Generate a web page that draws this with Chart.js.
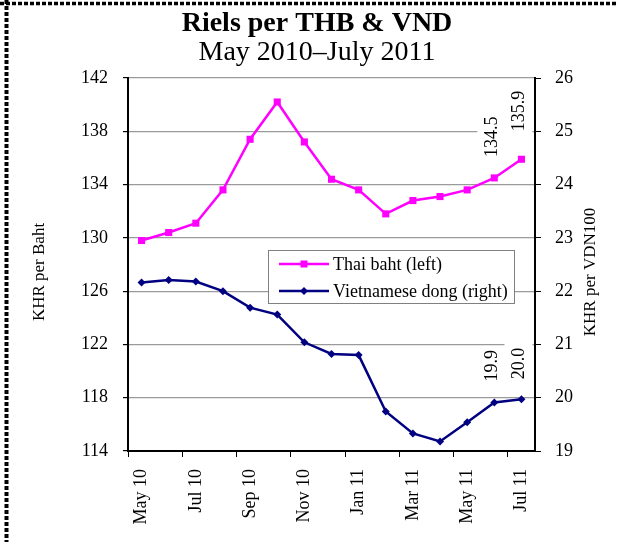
<!DOCTYPE html>
<html>
<head>
<meta charset="utf-8">
<script src="https://cdn.jsdelivr.net/npm/chart.js@4.4.1/dist/chart.umd.min.js"></script>
<style>
  html, body { margin: 0; padding: 0; background: #ffffff; }
  #wrap { width: 617px; height: 542px; position: relative; }
</style>
</head>
<body>
<div id="wrap"><canvas id="c" width="617" height="542"></canvas></div>
<script>
// ---- data ----
const months = ['May 10','Jun 10','Jul 10','Aug 10','Sep 10','Oct 10','Nov 10','Dec 10','Jan 11','Feb 11','Mar 11','Apr 11','May 11','Jun 11','Jul 11'];
const thaiBaht = [129.8, 130.4, 131.1, 133.6, 137.4, 140.2, 137.2, 134.4, 133.6, 131.8, 132.8, 133.1, 133.6, 134.5, 135.9];
const vietDong = [22.16, 22.21, 22.18, 22.0, 21.69, 21.56, 21.04, 20.82, 20.80, 19.74, 19.33, 19.18, 19.54, 19.91, 19.97];
const leftTicks = [114, 118, 122, 126, 130, 134, 138, 142];
const rightTicks = [19, 20, 21, 22, 23, 24, 25, 26];
const titleText = 'Riels per THB & VND';
const subtitleText = 'May 2010\u2013July 2011';
const leftAxisTitle = 'KHR per Baht';
const rightAxisTitle = 'KHR per VDN100';
const seriesNames = ['Thai baht (left)', 'Vietnamese dong (right)'];

const PINK = '#FF00FF';
const NAVY = '#000080';
const SERIF = '"Liberation Serif", "Times New Roman", serif';

const decor = {
  id: 'decor',
  beforeDraw(chart) {
    const ctx = chart.ctx;
    ctx.save();
    ctx.fillStyle = '#ffffff';
    ctx.fillRect(0, 0, chart.width, chart.height);
    // dashed frame (top and left)
    ctx.strokeStyle = '#000000';
    ctx.setLineDash([4, 2]);
    ctx.lineWidth = 3.5;
    ctx.beginPath(); ctx.moveTo(0, 3.5); ctx.lineTo(chart.width, 3.5); ctx.stroke();
    ctx.lineWidth = 4;
    ctx.beginPath(); ctx.moveTo(6.5, 0); ctx.lineTo(6.5, chart.height); ctx.stroke();
    ctx.setLineDash([]);
    // titles
    ctx.fillStyle = '#000000';
    ctx.textAlign = 'center';
    ctx.textBaseline = 'alphabetic';
    ctx.font = 'bold 28px ' + SERIF;
    ctx.fillText(titleText, 317, 31);
    ctx.font = '28px ' + SERIF;
    ctx.fillText(subtitleText, 317, 60);
    // axis titles
    ctx.font = '17px ' + SERIF;
    ctx.textBaseline = 'middle';
    ctx.save(); ctx.translate(40, 272); ctx.rotate(-Math.PI / 2); ctx.fillText(leftAxisTitle, 0, 0); ctx.restore();
    ctx.save(); ctx.translate(591, 272); ctx.rotate(-Math.PI / 2); ctx.fillText(rightAxisTitle, 0, 0); ctx.restore();
    ctx.restore();
  },
  afterDatasetsDraw(chart) {
    const ctx = chart.ctx;
    // value labels above last two points of each series
    const labels = [
      { ds: 0, i: 13, off: 21 },
      { ds: 0, i: 14, off: 28 },
      { ds: 1, i: 13, off: 21 },
      { ds: 1, i: 14, off: 20 }
    ];
    ctx.save();
    ctx.font = '18px ' + SERIF;
    labels.forEach(l => {
      const el = chart.getDatasetMeta(l.ds).data[l.i];
      const v = chart.data.datasets[l.ds].data[l.i];
      const txt = v.toFixed(1);
      const w = ctx.measureText(txt).width;
      ctx.save();
      ctx.translate(el.x - 3, el.y - l.off);
      ctx.rotate(-Math.PI / 2);
      ctx.fillStyle = '#ffffff';
      ctx.fillRect(-4, -14, w + 8, 28);
      ctx.fillStyle = '#000000';
      ctx.textAlign = 'left';
      ctx.textBaseline = 'middle';
      ctx.fillText(txt, 0, 1);
      ctx.restore();
    });
    // legend box inside the plot
    const a = chart.chartArea;
    const lx = a.left + 140, ly = a.top + 172, lw = 247, lh = 54;
    ctx.fillStyle = '#ffffff';
    ctx.fillRect(lx, ly, lw, lh);
    ctx.strokeStyle = '#808080';
    ctx.lineWidth = 1;
    ctx.strokeRect(lx + 0.5, ly + 0.5, lw - 1, lh - 1);
    const rows = [
      { y: ly + 14, color: PINK, shape: 'sq', text: seriesNames[0] },
      { y: ly + 41, color: NAVY, shape: 'dia', text: seriesNames[1] }
    ];
    rows.forEach(r => {
      ctx.strokeStyle = r.color;
      ctx.lineWidth = 2.5;
      ctx.beginPath(); ctx.moveTo(lx + 11, r.y); ctx.lineTo(lx + 61, r.y); ctx.stroke();
      ctx.fillStyle = r.color;
      const cx = lx + 36;
      if (r.shape === 'sq') {
        ctx.fillRect(cx - 3.5, r.y - 3.5, 7, 7);
      } else {
        ctx.beginPath();
        ctx.moveTo(cx, r.y - 4); ctx.lineTo(cx + 4, r.y); ctx.lineTo(cx, r.y + 4); ctx.lineTo(cx - 4, r.y);
        ctx.closePath(); ctx.fill();
      }
      ctx.fillStyle = '#000000';
      ctx.font = '18px ' + SERIF;
      ctx.textAlign = 'left';
      ctx.textBaseline = 'middle';
      ctx.fillText(r.text, lx + 65, r.y + 1);
    });
    ctx.restore();
  }
};

new Chart(document.getElementById('c'), {
  type: 'line',
  data: {
    labels: months,
    datasets: [
      {
        label: seriesNames[0],
        data: thaiBaht,
        yAxisID: 'y',
        borderColor: PINK,
        backgroundColor: PINK,
        borderWidth: 2.5,
        pointStyle: 'rect',
        pointRadius: 5,
        pointBorderWidth: 0,
        tension: 0
      },
      {
        label: seriesNames[1],
        data: vietDong,
        yAxisID: 'y1',
        borderColor: NAVY,
        backgroundColor: NAVY,
        borderWidth: 2.5,
        pointStyle: 'rectRot',
        pointRadius: 4,
        pointBorderWidth: 0,
        tension: 0
      }
    ]
  },
  options: {
    responsive: false,
    animation: false,
    layout: { padding: { top: 78, left: 0, right: 0, bottom: 0 } },
    plugins: {
      legend: { display: false },
      title: { display: false },
      tooltip: { enabled: false }
    },
    scales: {
      x: {
        type: 'category',
        offset: true,
        afterFit(s) { s.height = 91; },
        grid: {
          offset: true,
          drawOnChartArea: false,
          tickLength: 6,
          tickColor: (c) => (c.index % 2 === 0 ? '#000000' : 'rgba(0,0,0,0)'),
          lineWidth: 1
        },
        border: { color: '#000000', width: 2 },
        ticks: {
          autoSkip: false,
          minRotation: 90,
          maxRotation: 90,
          padding: 12,
          color: '#000000',
          font: { family: SERIF, size: 18 },
          callback(v, i) { return i % 2 === 0 ? months[i] : ''; }
        }
      },
      y: {
        position: 'left',
        min: 114,
        max: 142,
        afterFit(s) { s.width = 128; },
        afterBuildTicks(s) { s.ticks = leftTicks.map(v => ({ value: v })); },
        grid: { color: '#9a9a9a', lineWidth: 1.2, tickColor: '#000000', tickLength: 5 },
        border: { color: '#000000', width: 2 },
        ticks: { padding: 15, color: '#000000', font: { family: SERIF, size: 18 } }
      },
      y1: {
        position: 'right',
        min: 19,
        max: 26,
        afterFit(s) { s.width = 82; },
        afterBuildTicks(s) { s.ticks = rightTicks.map(v => ({ value: v })); },
        grid: { drawOnChartArea: false, tickColor: '#000000', tickLength: 6 },
        border: { color: '#000000', width: 2 },
        ticks: { padding: 14, color: '#000000', font: { family: SERIF, size: 18 } }
      }
    }
  },
  plugins: [decor]
});
</script>
</body>
</html>
